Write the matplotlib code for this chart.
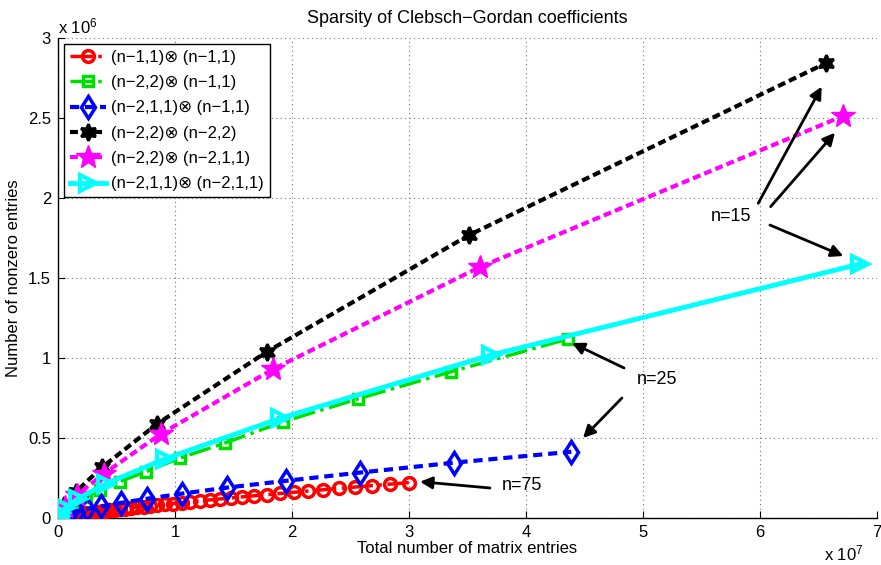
import matplotlib
matplotlib.use('Agg')
import matplotlib.pyplot as plt

plt.rcParams['font.family'] = ['Liberation Sans', 'DejaVu Sans']
plt.rcParams['mathtext.default'] = 'regular'

# ---------------- data ----------------
labels = ['(n\u22121,1)\u2297 (n\u22121,1)',
          '(n\u22122,2)\u2297 (n\u22121,1)',
          '(n\u22122,1,1)\u2297 (n\u22121,1)',
          '(n\u22122,2)\u2297 (n\u22122,2)',
          '(n\u22122,2)\u2297 (n\u22122,1,1)',
          '(n\u22122,1,1)\u2297 (n\u22122,1,1)']

red_x = [81, 256, 625, 1296, 2401, 4096, 6561, 10000, 14641, 20736, 28561, 38416,
         50625, 65536, 83521, 104976, 130321, 160000, 194481, 234256, 279841, 331776,
         390625, 456976, 531441, 614656, 707281, 810000, 923521, 1048576, 1185921,
         1336336, 1500625, 1679616, 1874161, 2085136, 2313441, 2560000, 2825761,
         3111696, 3418801, 3748096, 4100625, 4477456, 4879681, 5308416, 5764801,
         6250000, 6765201, 7311616, 7890481, 8503056, 9150625, 9834496, 10556001,
         11316496, 12117361, 12960000, 13845841, 14776336, 15752961, 16777216,
         17850625, 18974736, 20151121, 21381376, 22667121, 24010000, 25411681,
         26873856, 28398241, 29986576]
red_y = [10, 20, 40, 70, 120, 180, 260, 370, 500, 650, 850, 1070, 1340, 1640, 2000,
         2400, 2850, 3360, 3930, 4560, 5250, 6020, 6860, 7770, 8770, 9860, 11000,
         12300, 13700, 15100, 16700, 18300, 20100, 22000, 24000, 26200, 28500, 30900,
         33400, 36100, 38900, 41900, 45000, 48300, 51700, 55300, 59100, 63000, 67200,
         71500, 76000, 80600, 85500, 90600, 95900, 101400, 107100, 113000, 119100,
         125500, 132000, 138900, 145900, 153200, 160800, 168600, 176700, 185000,
         193600, 202500, 211600, 221000]

green_x = [36, 400, 2025, 7056, 19600, 46656, 99225, 193600, 352836, 608400, 1002001,
           1587600, 2433600, 3625216, 5267025, 7485696, 10432900, 14288400, 19263321,
           25603600, 33593616, 43560000]
green_y = [100, 400, 1000, 2500, 5000, 8500, 14000, 22000, 34000, 50000, 71000, 98000,
           133000, 175000, 227000, 289000, 375000, 469000, 602000, 744000, 914000,
           1119000]

blue_x = [81, 576, 2500, 8100, 21609, 50176, 104976, 202500, 366025, 627264, 1028196,
          1623076, 2480625, 3686400, 5345344, 7584516, 10556001, 14440000, 19448100,
          25826724, 33860761, 43877376]
blue_y = [50, 150, 400, 900, 1800, 3200, 5300, 8500, 13000, 20000, 29000, 40000,
          55000, 72000, 94000, 120000, 152000, 190000, 232000, 284000, 346000, 414000]

black_x = [16, 625, 6561, 38416, 160000, 531441, 1500625, 3748096, 8503056, 17850625,
           35153041, 65610000]
black_y = [300, 1500, 5500, 15000, 36000, 79000, 162000, 316000, 590000, 1039000,
           1769000, 2842000]

magenta_x = [36, 900, 8100, 44100, 176400, 571536, 1587600, 3920400, 8820900,
             18404100, 36072036, 67076100]
magenta_y = [300, 1300, 4700, 13000, 31000, 68000, 141000, 277000, 527000, 931000,
             1569000, 2512000]

cyan_x = [81, 1296, 10000, 50625, 194481, 614656, 1679616, 4100625, 9150625,
          18974736, 37015056, 68574961]
cyan_y = [300, 1500, 5000, 13000, 30000, 62000, 119000, 215000, 370000, 623000,
          1019000, 1588000]

x_ticks = [0, 1e7, 2e7, 3e7, 4e7, 5e7, 6e7, 7e7]
x_tick_labels = ['0', '1', '2', '3', '4', '5', '6', '7']
y_ticks = [0, 0.5e6, 1e6, 1.5e6, 2e6, 2.5e6, 3e6]
y_tick_labels = ['0', '0.5', '1', '1.5', '2', '2.5', '3']

# ---------------- figure ----------------
W, H = 881, 565
FS = 12
fig = plt.figure(figsize=(W / 100, H / 100), dpi=100)
ax = fig.add_axes([58 / W, 47 / H, 819 / W, 480 / H])

ax.plot(red_x, red_y, color='red', linestyle='-.', lw=2.5, marker='o', ms=8.5,
        mew=2.5, mfc='none', mec='red', label=labels[0], zorder=3)
ax.plot(green_x, green_y, color='#00e000', linestyle='-.', lw=2.5, marker='s', ms=7,
        mew=2.5, mfc='none', mec='#00e000', label=labels[1], zorder=3)
ax.plot(blue_x, blue_y, color='blue', linestyle=(0, (2.2, 1.4)), lw=3, marker='d',
        ms=11.5, mew=2.5, mfc='none', mec='blue', label=labels[2], zorder=3)
ax.plot(black_x, black_y, color='black', linestyle=(0, (1.9, 1.0)), lw=3,
        marker=(6, 1, 0), ms=12, mew=2, mfc='black', mec='black', label=labels[3],
        zorder=3)
ax.plot(magenta_x, magenta_y, color='magenta', linestyle=(0, (1.9, 1.0)), lw=3,
        marker='*', ms=18, mew=1, mfc='magenta', mec='magenta', label=labels[4],
        zorder=3)
ax.plot(cyan_x, cyan_y, color='cyan', linestyle='-', lw=3.5, marker='>', ms=12,
        mew=3, mfc='none', mec='cyan', label=labels[5], zorder=4)

ax.set_xlim(0, 7e7)
ax.set_ylim(0, 3e6)
ax.set_xticks(x_ticks)
ax.set_xticklabels(x_tick_labels)
ax.set_yticks(y_ticks)
ax.set_yticklabels(y_tick_labels)
ax.tick_params(direction='in', length=5, width=0.8, labelsize=FS, pad=5)
ax.grid(True, color='0.45', linestyle=(0, (1, 3)), linewidth=0.8)
ax.set_axisbelow(True)
for s in ['top', 'right']:
    ax.spines[s].set_visible(False)
for s in ['left', 'bottom']:
    ax.spines[s].set_linewidth(1.0)

ax.set_xlabel('Total number of matrix entries', fontsize=FS, labelpad=1)
ax.set_ylabel('Number of nonzero entries', fontsize=FS, labelpad=5)
ax.set_title('Sparsity of Clebsch\u2212Gordan coefficients', fontsize=13, pad=11)

fig.text(58 / W, 1 - 33 / H, r'x 10$^{6}$', fontsize=FS, ha='left', va='baseline')
fig.text(824 / W, 1 - 560 / H, r'x 10$^{7}$', fontsize=FS, ha='left', va='baseline')

leg = ax.legend(loc='upper left', fontsize=FS, frameon=True, fancybox=False,
                framealpha=1, edgecolor='black', borderaxespad=0.35,
                handlelength=2.2, handletextpad=0.3, labelspacing=0.62,
                borderpad=0.35)
leg.get_frame().set_linewidth(1.0)

arrow = dict(arrowstyle='-|>', color='black', lw=2, mutation_scale=18,
             shrinkA=0, shrinkB=0)
ax.text(5.752e7, 1.883e6, 'n=15', fontsize=13, ha='center', va='center')
ax.annotate('', xy=(6.527e7, 2.696e6), xytext=(5.985e7, 1.967e6), arrowprops=arrow)
ax.annotate('', xy=(6.641e7, 2.408e6), xytext=(6.091e7, 1.946e6), arrowprops=arrow)
ax.annotate('', xy=(6.712e7, 1.6375e6), xytext=(6.085e7, 1.831e6), arrowprops=arrow)

ax.text(5.12e7, 0.8625e6, 'n=25', fontsize=13, ha='center', va='center')
ax.annotate('', xy=(4.393e7, 1.094e6), xytext=(4.838e7, 0.9375e6), arrowprops=arrow)
ax.annotate('', xy=(4.487e7, 0.5e6), xytext=(4.82e7, 0.75e6), arrowprops=arrow)

ax.text(3.966e7, 0.206e6, 'n=75', fontsize=13, ha='center', va='center')
ax.annotate('', xy=(3.094e7, 0.227e6), xytext=(3.692e7, 0.1875e6), arrowprops=arrow)

fig.savefig('out.png', dpi=100)
